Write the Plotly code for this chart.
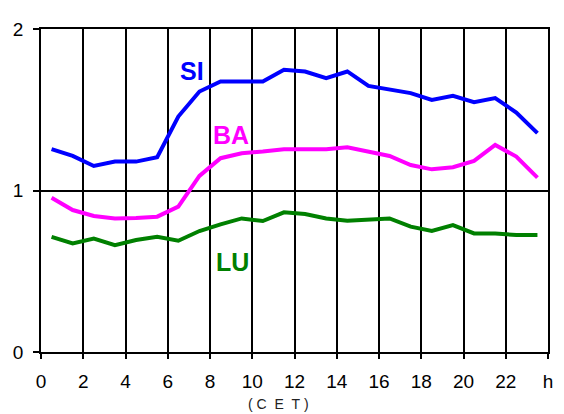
import plotly.graph_objects as go

hours = [h + 0.5 for h in range(24)]
si = [1.256, 1.214, 1.152, 1.179, 1.179, 1.206, 1.458, 1.613, 1.675, 1.675, 1.675, 1.748,
      1.737, 1.696, 1.737, 1.648, 1.623, 1.603, 1.561, 1.586, 1.547, 1.572, 1.483, 1.355]
ba = [0.955, 0.879, 0.842, 0.827, 0.829, 0.838, 0.900, 1.090, 1.200, 1.231, 1.241, 1.256,
      1.256, 1.256, 1.268, 1.241, 1.214, 1.158, 1.131, 1.144, 1.183, 1.282, 1.210, 1.080]
lu = [0.713, 0.672, 0.703, 0.662, 0.693, 0.713, 0.689, 0.749, 0.790, 0.827, 0.811, 0.865,
      0.854, 0.827, 0.813, 0.823, 0.827, 0.776, 0.749, 0.786, 0.734, 0.734, 0.724, 0.724]

x_tickvals = list(range(0, 25, 2))
x_ticktext = [str(v) for v in range(0, 23, 2)] + ["h"]
y_tickvals = [0, 1, 2]

series = [("SI", si, "#0000FF", 7.15, 1.741), ("BA", ba, "#FF00FF", 9.0, 1.344), ("LU", lu, "#008000", 9.05, 0.556)]

fig = go.Figure()
for name, vals, color, lx, ly in series:
    fig.add_trace(go.Scatter(x=hours, y=vals, mode="lines", name=name,
                             line=dict(color=color, width=4), showlegend=False))
    fig.add_annotation(x=lx, y=ly, text="<b>%s</b>" % name, showarrow=False,
                       font=dict(size=25, color=color, family="Liberation Sans, Arial, sans-serif"),
                       xanchor="center", yanchor="middle")

fig.add_annotation(x=0.469, y=-0.16, xref="paper", yref="paper",
                   text="(&nbsp;C&nbsp;&nbsp;E&nbsp;&nbsp;T&nbsp;)",
                   showarrow=False, font=dict(size=14, color="#222222"),
                   xanchor="center", yanchor="middle")

fig.update_layout(
    width=564, height=414,
    margin=dict(l=33, r=24, t=21, b=70),
    paper_bgcolor="white", plot_bgcolor="white",
    font=dict(family="Liberation Sans, Arial, sans-serif", size=19, color="black"),
)
fig.update_xaxes(range=[0, 24], tickvals=x_tickvals, ticktext=x_ticktext,
                 showgrid=True, gridcolor="black", gridwidth=1.5,
                 showline=True, linecolor="black", linewidth=1.5, mirror=True,
                 ticks="outside", ticklen=5, tickwidth=1.5, tickcolor="black",
                 zeroline=False, ticklabelstandoff=6, automargin=False)
fig.update_yaxes(range=[0, 2], tickvals=y_tickvals,
                 showgrid=True, gridcolor="black", gridwidth=1.5,
                 showline=True, linecolor="black", linewidth=1.5, mirror=True,
                 ticks="outside", ticklen=6, tickwidth=1.5, tickcolor="black",
                 zeroline=False, ticklabelstandoff=6, automargin=False)

fig.write_html("out.html")
